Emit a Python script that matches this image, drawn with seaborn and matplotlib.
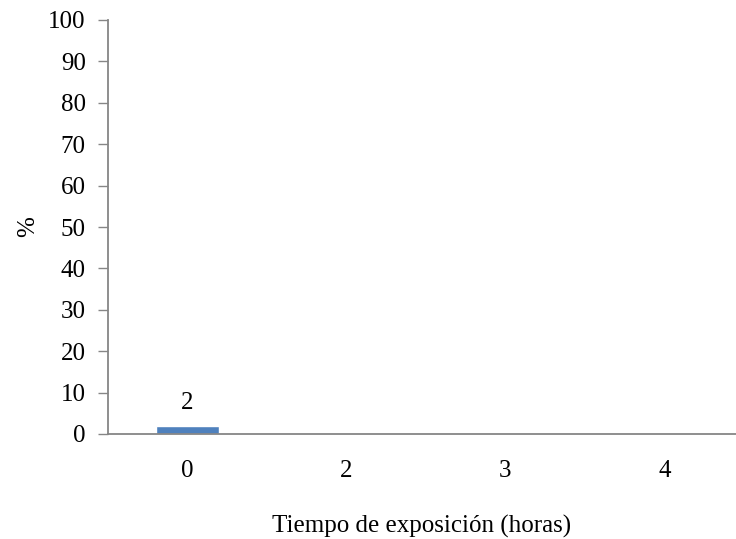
import matplotlib
matplotlib.use("Agg")
import matplotlib.pyplot as plt
import seaborn as sns
import pandas as pd

categories = ["0", "2", "3", "4"]
values = [2, 0, 0, 0]
value_labels = ["2", "", "", ""]
y_ticks = [0, 10, 20, 30, 40, 50, 60, 70, 80, 90, 100]

sns.set_theme(style="white")
plt.rcParams['font.family'] = ['Liberation Serif', 'DejaVu Serif']

FS = 18

df = pd.DataFrame({"tiempo": categories, "pct": values})

fig = plt.figure(figsize=(7.36, 5.39), dpi=100)
ax = fig.add_axes([108/736, (539-434)/539, (736-108)/736, (434-20)/539])

sns.barplot(data=df, x="tiempo", y="pct", color="#4F81BD", width=0.40,
            saturation=1, ax=ax)

for i, (v, lab) in enumerate(zip(values, value_labels)):
    if lab:
        ax.annotate(lab, (i, v), xytext=(0, 12), textcoords="offset points",
                    ha="center", va="baseline", fontsize=FS, color="black")

ax.set_xlim(-0.5, 3.45)
ax.set_ylim(0, 100)
ax.set_yticks(y_ticks)
ax.tick_params(axis="y", which="both", left=True, length=7, width=1,
               color="#868686", labelsize=FS, pad=9, labelcolor="black")
ax.tick_params(axis="x", bottom=False, labelsize=FS, pad=13, labelcolor="black")

for side in ["top", "right"]:
    ax.spines[side].set_visible(False)
for side in ["left", "bottom"]:
    ax.spines[side].set_color("#868686")
    ax.spines[side].set_linewidth(1.3)

ax.set_xlabel("Tiempo de exposición (horas)", fontsize=FS, color="black", va="center")
ax.set_ylabel("%", fontsize=FS, color="black", va="center")
ax.xaxis.set_label_coords(0.5, (434 - 526) / 414)
ax.yaxis.set_label_coords((28 - 108) / 628, 0.5)

fig.savefig("out.png", dpi=100)
